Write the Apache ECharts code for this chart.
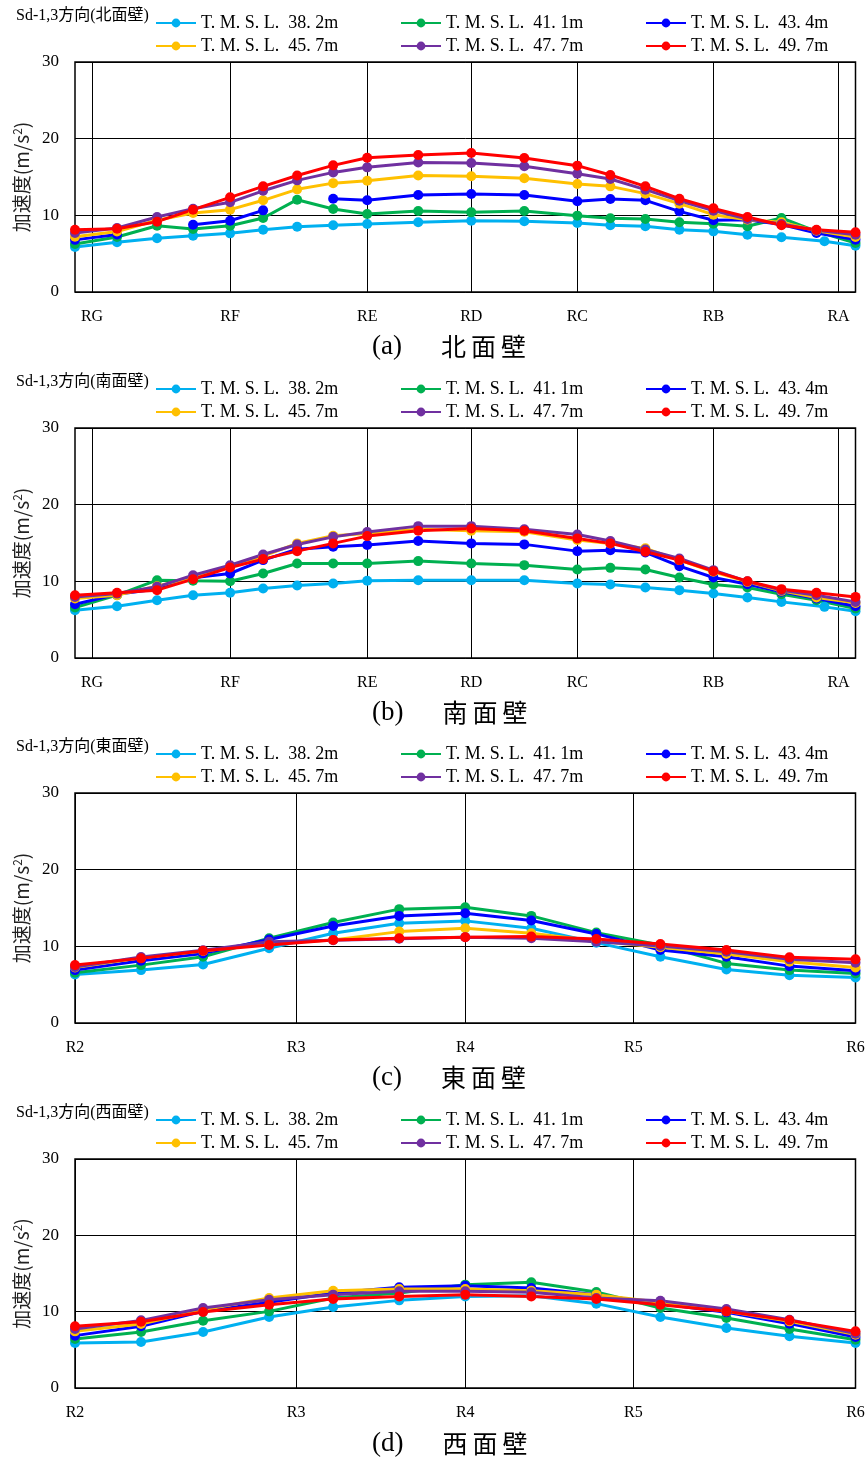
<!DOCTYPE html>
<html>
<head>
<meta charset="utf-8">
<script src="https://cdn.jsdelivr.net/npm/echarts@6/dist/echarts.min.js"></script>
<style>
html,body{margin:0;padding:0;background:#fff;}
#chart{width:868px;height:1458px;}
</style>
</head>
<body>
<div id="chart"></div>
<script>
// ---------- data ----------
const seriesNames = ['T. M. S. L.  38. 2m', 'T. M. S. L.  41. 1m', 'T. M. S. L.  43. 4m',
                     'T. M. S. L.  45. 7m', 'T. M. S. L.  47. 7m', 'T. M. S. L.  49. 7m'];
const seriesColors = ['#00B0F0', '#00B050', '#0000FF', '#FFC000', '#7030A0', '#FF0000'];

// North / South walls: measuring point positions (x, relative distance)
const nsX = [0, 4.2, 8.2, 11.8, 15.5, 18.8, 22.2, 25.8, 29.2, 34.3, 39.6, 44.9, 50.2, 53.5, 57.0, 60.4, 63.8, 67.2, 70.6, 74.1, 78.0];
const nsXLow = [0, 4.2, 8.2, 11.8, 15.5, 18.8, 22.2, 25.8, 29.2, 34.3, 39.6, 44.9, 50.2, 53.5, 57.0, 60.4, 63.8, 67.2, 70.6, 74.9, 78.0];
const nsGridPos = [1.7, 15.5, 29.2, 39.6, 50.2, 63.8, 76.3];
const nsGridLabels = ['RG', 'RF', 'RE', 'RD', 'RC', 'RB', 'RA'];

// East / West walls
const ewX = [0, 6.6, 12.8, 19.4, 25.8, 32.4, 39.0, 45.6, 52.1, 58.5, 65.1, 71.4, 78.0];
const ewGridPos = [0, 22.1, 39.0, 55.8, 78.0];
const ewGridLabels = ['R2', 'R3', 'R4', 'R5', 'R6'];

// (a) North wall
const north382 = [5.87, 6.48, 7.0, 7.35, 7.65, 8.13, 8.52, 8.7, 8.87, 9.09, 9.3, 9.22, 9.0, 8.7, 8.57, 8.13, 7.91, 7.48, 7.13, 6.61, 6.04];
const north411 = [6.26, 7.17, 8.65, 8.22, 8.65, 9.65, 12.04, 10.83, 10.17, 10.57, 10.39, 10.57, 9.96, 9.61, 9.52, 9.09, 8.91, 8.57, 9.65, 7.91, 6.39];
const north434 = [6.8, 7.5, null, 8.78, 9.3, 10.65, null, 12.17, 11.96, 12.65, 12.78, 12.65, 11.83, 12.13, 11.96, 10.52, 9.35, 9.43, 8.8, 7.7, 6.83];
const north457 = [7.2, 7.9, 9.35, 10.3, 10.74, 11.96, 13.39, 14.2, 14.52, 15.2, 15.09, 14.83, 14.09, 13.78, 12.83, 11.52, 10.09, 9.43, 9.09, 8.0, 7.17];
const north477 = [7.7, 8.35, 9.78, 10.87, 11.7, 13.2, 14.56, 15.6, 16.26, 16.9, 16.83, 16.4, 15.43, 14.74, 13.35, 11.91, 10.61, 9.52, 8.87, 8.04, 7.48];
const north497 = [8.13, 8.26, 9.17, 10.74, 12.35, 13.78, 15.2, 16.52, 17.52, 17.87, 18.13, 17.48, 16.48, 15.26, 13.78, 12.17, 10.91, 9.78, 8.7, 8.13, 7.78];

// (b) South wall
const south382 = [6.23, 6.75, 7.54, 8.19, 8.5, 9.06, 9.46, 9.72, 10.07, 10.15, 10.15, 10.15, 9.72, 9.59, 9.19, 8.85, 8.41, 7.89, 7.32, 6.67, 6.1];
const south411 = [6.58, 8.2, 10.15, 10.07, 10.02, 11.02, 12.33, 12.33, 12.33, 12.64, 12.33, 12.11, 11.55, 11.76, 11.55, 10.5, 9.59, 9.19, 8.32, 7.54, 6.45];
const south434 = [7.0, 8.3, 9.0, 10.46, 11.02, 12.77, 14.2, 14.5, 14.73, 15.25, 14.95, 14.82, 13.94, 14.07, 13.77, 11.98, 10.5, 9.63, 8.63, 7.76, 6.75];
const south457 = [7.75, 8.2, 9.37, 10.5, 11.9, 13.3, 14.95, 15.95, 16.25, 16.78, 16.6, 16.47, 15.38, 14.95, 14.3, 12.77, 11.24, 9.93, 8.76, 7.89, 7.19];
const south477 = [7.97, 8.4, 9.28, 10.8, 12.1, 13.5, 14.8, 15.8, 16.43, 17.2, 17.2, 16.78, 16.12, 15.25, 14.16, 12.98, 11.46, 10.0, 8.85, 8.19, 7.32];
const south497 = [8.19, 8.5, 8.85, 10.28, 11.8, 12.9, 13.94, 14.95, 15.9, 16.6, 16.9, 16.6, 15.6, 14.95, 13.86, 12.77, 11.33, 10.02, 8.98, 8.5, 7.97];

// (c) East wall
const east382 = [6.33, 6.9, 7.64, 9.74, 11.7, 13.0, 13.32, 12.36, 10.48, 8.65, 6.99, 6.24, 5.94];
const east411 = [6.55, 7.55, 8.65, 11.05, 13.1, 14.85, 15.1, 13.97, 11.79, 10.17, 7.77, 6.9, 6.46];
const east434 = [6.9, 8.12, 9.08, 10.9, 12.66, 13.97, 14.32, 13.36, 11.62, 9.52, 8.65, 7.42, 6.81];
const east457 = [7.25, 8.5, 9.4, 10.4, 10.83, 11.92, 12.36, 11.7, 10.7, 9.87, 9.0, 7.99, 7.25];
const east477 = [7.3, 8.6, 9.5, 10.6, 10.8, 11.0, 11.2, 11.05, 10.6, 10.04, 9.3, 8.3, 7.86];
const east497 = [7.55, 8.43, 9.43, 10.17, 10.83, 11.05, 11.18, 11.27, 10.96, 10.3, 9.52, 8.56, 8.3];

// (d) West wall
const west382 = [5.9, 6.03, 7.34, 9.3, 10.61, 11.48, 12.0, 12.1, 11.05, 9.3, 7.86, 6.77, 5.9];
const west411 = [6.42, 7.34, 8.82, 10.04, 11.79, 12.45, 13.54, 13.84, 12.58, 10.48, 9.17, 7.73, 6.33];
const west434 = [6.86, 8.08, 10.04, 11.22, 12.45, 13.19, 13.4, 13.1, 12.23, 11.05, 9.91, 8.43, 6.68];
const west457 = [7.42, 8.38, 10.26, 11.79, 12.75, 12.97, 12.97, 12.75, 12.23, 11.22, 10.04, 8.73, 6.99];
const west477 = [7.73, 8.86, 10.48, 11.57, 12.23, 12.66, 12.66, 12.53, 11.79, 11.44, 10.35, 8.95, 7.12];
const west497 = [8.08, 8.69, 9.96, 10.92, 11.66, 12.0, 12.23, 12.0, 11.66, 10.92, 10.04, 8.86, 7.42];

const yTicks = [0, 10, 20, 30];
const panelTitles = ['Sd-1,3方向(北面壁)', 'Sd-1,3方向(南面壁)', 'Sd-1,3方向(東面壁)', 'Sd-1,3方向(西面壁)'];
const panelMarks = ['(a)', '(b)', '(c)', '(d)'];
const panelWalls = ['北面壁', '南面壁', '東面壁', '西面壁'];

// ---------- build ----------
const SERIF = "'Liberation Serif', 'Noto Sans CJK JP', serif";
const CJK = "'Noto Sans CJK JP', 'Liberation Serif', sans-serif";

const panels = [
  { xs: [nsXLow, nsX, nsX, nsX, nsX, nsX], ys: [north382, north411, north434, north457, north477, north497], gp: nsGridPos, gl: nsGridLabels },
  { xs: [nsXLow, nsX, nsX, nsX, nsX, nsX], ys: [south382, south411, south434, south457, south477, south497], gp: nsGridPos, gl: nsGridLabels },
  { xs: [ewX, ewX, ewX, ewX, ewX, ewX], ys: [east382, east411, east434, east457, east477, east497], gp: ewGridPos, gl: ewGridLabels },
  { xs: [ewX, ewX, ewX, ewX, ewX, ewX], ys: [west382, west411, west434, west457, west477, west497], gp: ewGridPos, gl: ewGridLabels }
];
const gridTops = [62, 428, 793, 1159];
const gridHeights = [230, 230, 230, 229];
const offs = [0, 366, 731, 1097];

const option = {
  animation: false,
  backgroundColor: '#fff',
  title: [], legend: [], grid: [], xAxis: [], yAxis: [], series: []
};

panels.forEach((p, i) => {
  option.title.push({
    text: panelTitles[i], left: 16, top: 7 + offs[i], padding: 0,
    textStyle: { fontSize: 16, fontWeight: 'normal', color: '#000', fontFamily: SERIF, lineHeight: 18 }
  });
  option.title.push({
    text: '{p|' + panelMarks[i] + '}' + panelWalls[i].split('').map(c => '{k|' + c + '}').join(''),
    left: 372, top: 333 + offs[i], padding: 0,
    textStyle: {
      fontWeight: 'normal',
      rich: {
        p: { fontSize: 27, fontFamily: SERIF, fontWeight: 'normal', color: '#000', padding: [0, 36, 0, 0] },
        k: { fontSize: 25, fontFamily: CJK, fontWeight: 'normal', color: '#000', padding: [0, 2, 0, 3] }
      }
    }
  });
  option.legend.push({
    data: seriesNames, top: 13 + offs[i], left: 155, width: 735, padding: 0,
    itemWidth: 40, itemHeight: 11, itemGap: 3,
    textStyle: { fontSize: 18, fontFamily: SERIF, color: '#000', width: 196, lineHeight: 20 }
  });
  option.grid.push({
    left: 75, width: 780.5, top: gridTops[i], height: gridHeights[i],
    show: true, borderColor: '#000', borderWidth: 1.5, backgroundColor: 'transparent'
  });
  const gp = p.gp, gl = p.gl;
  option.xAxis.push({
    type: 'value', gridIndex: i, min: 0, max: 78,
    axisLine: { show: false },
    axisTick: { show: false, customValues: gp },
    axisLabel: {
      customValues: gp, margin: 17, fontSize: 16, fontFamily: SERIF, color: '#000',
      formatter: v => { const k = gp.findIndex(g => Math.abs(g - v) < 1e-6); return k >= 0 ? gl[k] : ''; }
    },
    splitLine: { show: true, lineStyle: { color: '#000', width: 1 } }
  });
  option.yAxis.push({
    type: 'value', gridIndex: i, min: yTicks[0], max: yTicks[yTicks.length - 1], interval: 10,
    name: '加速度(m/s{sup|2})', nameLocation: 'middle', nameGap: 43,
    nameTextStyle: { fontSize: 19, fontFamily: CJK, color: '#222',
      rich: { sup: { fontSize: 12, fontFamily: CJK, color: '#222', verticalAlign: 'top', padding: [0, 0, 9, 0] } } },
    axisLine: { show: false }, axisTick: { show: false },
    axisLabel: { margin: 16, fontSize: 17, fontFamily: SERIF, color: '#000' },
    splitLine: { show: true, lineStyle: { color: '#000', width: 1 } }
  });
  p.ys.forEach((ys, s) => {
    const xs = p.xs[s];
    option.series.push({
      name: seriesNames[s], type: 'line', xAxisIndex: i, yAxisIndex: i,
      data: ys.map((v, k) => [xs[k], v]),
      symbol: 'circle', symbolSize: 10, showAllSymbol: true, connectNulls: false,
      lineStyle: { color: seriesColors[s], width: 3 },
      itemStyle: { color: seriesColors[s] },
      emphasis: { disabled: true }
    });
  });
});

const chart = echarts.init(document.getElementById('chart'), null, { renderer: 'canvas' });
chart.setOption(option);
</script>
</body>
</html>
